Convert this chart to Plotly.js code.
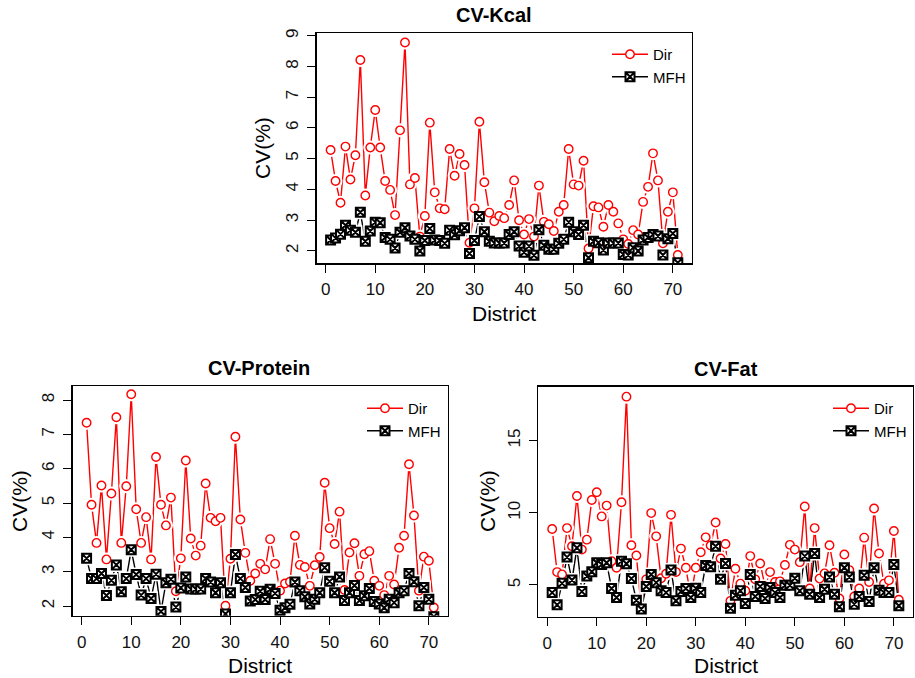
<!DOCTYPE html>
<html>
<head>
<meta charset="utf-8">
<script src="https://cdn.plot.ly/plotly-3.0.1.min.js"></script>
<style>html,body{margin:0;padding:0;background:#fff;}#chart{width:915px;height:678px;}</style>
</head>
<body>
<div id="chart"></div>
<script>
const districts = [1,2,3,4,5,6,7,8,9,10,11,12,13,14,15,16,17,18,19,20,21,22,23,24,25,26,27,28,29,30,31,32,33,34,35,36,37,38,39,40,41,42,43,44,45,46,47,48,49,50,51,52,53,54,55,56,57,58,59,60,61,62,63,64,65,66,67,68,69,70,71];

const kcalDir = [5.28,4.27,3.56,5.39,4.32,5.11,8.21,3.80,5.36,6.58,5.36,4.27,3.98,3.16,5.92,8.78,4.16,4.37,2.46,3.13,6.17,3.90,3.38,3.35,5.31,4.44,5.15,4.79,2.26,3.38,6.20,4.23,3.24,2.96,3.13,3.06,3.49,4.29,2.99,2.53,3.03,2.46,4.12,2.94,2.86,2.64,3.27,3.49,5.31,4.16,4.12,4.93,2.07,3.45,3.41,2.78,3.49,3.27,2.89,2.37,2.22,2.67,2.53,3.59,4.08,5.17,4.29,2.24,3.27,3.90,1.86];
const kcalMFH = [2.35,2.41,2.54,2.83,2.67,2.60,3.25,2.31,2.64,2.93,2.91,2.43,2.37,2.09,2.60,2.75,2.48,2.37,1.99,2.33,2.72,2.35,2.33,2.24,2.67,2.52,2.65,2.75,1.91,2.33,3.11,2.62,2.31,2.25,2.25,2.25,2.53,2.62,2.15,1.95,2.15,1.85,2.68,2.18,2.05,2.05,2.24,2.37,2.93,2.62,2.53,2.83,1.77,2.31,2.26,2.02,2.25,2.25,2.25,1.88,1.86,2.10,1.99,2.35,2.43,2.53,2.48,1.86,2.39,2.56,1.61];

const protDir = [7.34,4.95,3.84,5.51,3.36,5.28,7.50,3.84,5.49,8.17,4.82,3.84,4.59,3.36,6.34,4.95,4.35,5.16,2.43,3.39,6.24,3.97,3.47,3.76,5.57,4.57,4.47,4.57,2.01,3.38,6.93,4.52,3.55,2.74,2.95,3.23,3.07,3.95,3.23,2.45,2.66,2.71,4.05,3.20,3.14,2.59,3.19,3.43,5.59,4.27,3.81,4.75,2.47,3.56,3.83,2.88,3.51,3.60,2.74,2.59,2.32,2.88,2.63,3.70,4.05,6.13,4.64,2.45,3.44,3.32,1.96];
const protMFH = [3.39,2.80,2.80,2.95,2.31,2.75,3.20,2.42,2.80,3.64,2.92,2.32,2.80,2.22,2.93,1.84,2.68,2.78,1.97,2.53,2.85,2.50,2.50,2.50,2.80,2.70,2.39,2.68,1.77,2.39,3.50,2.80,2.54,2.15,2.19,2.43,2.19,2.49,2.37,1.88,1.95,2.05,2.70,2.45,2.27,2.06,2.20,2.39,3.12,2.72,2.39,2.85,2.16,2.39,2.60,2.16,2.30,2.51,2.13,2.06,1.95,2.20,2.10,2.39,2.45,2.95,2.71,2.01,2.54,2.20,1.69];

const fatDir = [8.88,5.89,5.73,8.94,7.68,11.17,7.45,8.14,10.89,11.42,9.75,10.50,6.65,6.19,10.73,18.05,7.75,7.04,3.37,5.39,9.98,8.37,5.46,5.78,9.86,5.89,7.52,6.19,4.17,6.19,7.27,8.30,7.73,9.33,6.83,7.84,3.90,6.12,5.09,4.60,7.00,5.39,6.49,4.89,5.89,5.21,5.25,6.38,7.78,7.45,6.58,10.44,4.75,8.94,5.44,5.80,7.75,5.85,4.06,7.11,6.03,4.20,4.75,8.28,5.21,10.30,7.18,5.09,5.32,8.74,3.97];
const fatMFH = [4.47,3.62,5.11,6.93,5.34,7.57,4.54,5.62,5.92,6.54,6.42,6.54,4.75,4.13,6.65,6.47,5.44,3.94,3.33,4.89,5.73,5.16,4.59,4.47,6.03,3.90,4.54,4.75,4.13,4.77,4.47,6.35,6.26,7.68,5.39,6.49,3.39,4.29,4.59,3.72,5.73,4.20,4.89,4.06,4.82,4.47,4.13,4.98,4.98,5.46,4.59,7.00,4.36,7.18,4.13,4.70,5.55,4.36,3.49,6.19,5.55,3.67,4.20,5.67,3.85,6.19,4.63,4.47,4.47,6.42,3.56];

const panelTitles = ["CV-Kcal", "CV-Protein", "CV-Fat"];
const seriesNames = ["Dir", "MFH"];
const xTicks = [0,10,20,30,40,50,60,70];
const kcalTicks = [2,3,4,5,6,7,8,9];
const protTicks = [2,3,4,5,6,7,8];
const fatTicks = [5,10,15];

const FONT = "Liberation Sans, Arial, Helvetica, sans-serif";
const RED = "#ff0000";
const BLACK = "#000000";

function panelTraces(dir, mfh, ax, legendId) {
  const xa = ax === 1 ? "x" : "x" + ax;
  const ya = ax === 1 ? "y" : "y" + ax;
  const common = {x: districts, xaxis: xa, yaxis: ya, hoverinfo: "skip", cliponaxis: true};
  const dirMarker = {symbol: "circle", size: 8.5, color: "#ffffff", line: {color: RED, width: 1.4}};
  const mfhMarker = {symbol: "square-x", size: 9, color: "#ffffff", line: {color: BLACK, width: 2}};
  return [
    Object.assign({}, common, {y: dir, name: seriesNames[0], mode: "lines+markers", line: {color: RED, width: 1.4}, marker: dirMarker, legend: legendId, showlegend: true}),
    Object.assign({}, common, {y: mfh, name: seriesNames[1], mode: "lines+markers", line: {color: BLACK, width: 1.4}, marker: mfhMarker, legend: legendId, showlegend: true}),
    Object.assign({}, common, {y: dir, mode: "markers", marker: {symbol: "circle", size: 14, color: "#ffffff", line: {width: 0}}, showlegend: false}),
    Object.assign({}, common, {y: mfh, mode: "markers", marker: {symbol: "square", size: 14, color: "#ffffff", line: {width: 0}}, showlegend: false}),
    Object.assign({}, common, {y: dir, mode: "markers", marker: dirMarker, showlegend: false}),
    Object.assign({}, common, {y: mfh, mode: "markers", marker: mfhMarker, showlegend: false})
  ];
}

const data = [].concat(
  panelTraces(kcalDir, kcalMFH, 1, "legend"),
  panelTraces(protDir, protMFH, 2, "legend2"),
  panelTraces(fatDir, fatMFH, 3, "legend3")
);

function xAxis(domain, anchor) {
  return {domain: domain, anchor: anchor, range: [-1.8, 73.8], tickvals: xTicks, ticktext: xTicks.map(String),
    ticks: "outside", ticklen: 8, tickwidth: 1, tickcolor: BLACK, showline: true, mirror: true, linecolor: BLACK, linewidth: 1.5,
    showgrid: false, zeroline: false, tickfont: {family: FONT, size: 17, color: "#111"}, ticklabelstandoff: 2, fixedrange: true};
}
function yAxis(domain, anchor, range, ticks) {
  return {domain: domain, anchor: anchor, range: range, tickvals: ticks, ticktext: ticks.map(String), tickangle: -90,
    ticks: "outside", ticklen: 8, tickwidth: 1, tickcolor: BLACK, showline: true, mirror: true, linecolor: BLACK, linewidth: 1.5,
    showgrid: false, zeroline: false, tickfont: {family: FONT, size: 17, color: "#111"}, ticklabelstandoff: 2, fixedrange: true};
}

const W = 915, H = 678;
function px(x) { return x / W; }
function py(y) { return 1 - y / H; }

function legendAt(left, top) {
  return {x: px(left), y: py(top), xanchor: "left", yanchor: "top", bgcolor: "rgba(0,0,0,0)", borderwidth: 0,
    font: {family: FONT, size: 15, color: BLACK}, tracegroupgap: 0, itemwidth: 36, itemclick: false, itemdoubleclick: false};
}

function txt(text, x, y, size, bold, angle) {
  return {text: bold ? "<b>" + text + "</b>" : text, xref: "paper", yref: "paper", x: px(x), y: py(y),
    xanchor: "center", yanchor: "middle", showarrow: false, textangle: angle || 0,
    font: {family: FONT, size: size, color: BLACK}};
}

const layout = {
  width: W, height: H,
  margin: {l: 0, r: 0, t: 0, b: 0},
  paper_bgcolor: "#ffffff", plot_bgcolor: "#ffffff",
  hovermode: false,
  xaxis: xAxis([px(316.7), px(691.7)], "y"),
  yaxis: yAxis([py(263.3), py(33.3)], "x", [1.59, 9.08], kcalTicks),
  xaxis2: xAxis([px(72.7), px(447.7)], "y2"),
  yaxis2: yAxis([py(615.7), py(386)], "x2", [1.72, 8.41], protTicks),
  xaxis3: xAxis([px(538.3), px(912.7)], "y3"),
  yaxis3: yAxis([py(616.7), py(386.7)], "x3", [2.80, 18.74], fatTicks),
  legend: legendAt(607, 38),
  legend2: legendAt(362, 392),
  legend3: legendAt(828, 392),
  annotations: [
    txt(panelTitles[0], 494, 15, 20, true),
    txt(panelTitles[1], 259, 368, 20, true),
    txt(panelTitles[2], 726, 369, 20, true),
    txt("District", 504, 313, 21, false),
    txt("District", 260, 665, 21, false),
    txt("District", 726, 665, 21, false),
    txt("CV(%)", 263, 148, 21, false, -90),
    txt("CV(%)", 19, 501, 21, false, -90),
    txt("CV(%)", 487, 501, 21, false, -90)
  ]
};

Plotly.newPlot("chart", data, layout, {displayModeBar: false, staticPlot: true});
</script>
</body>
</html>
